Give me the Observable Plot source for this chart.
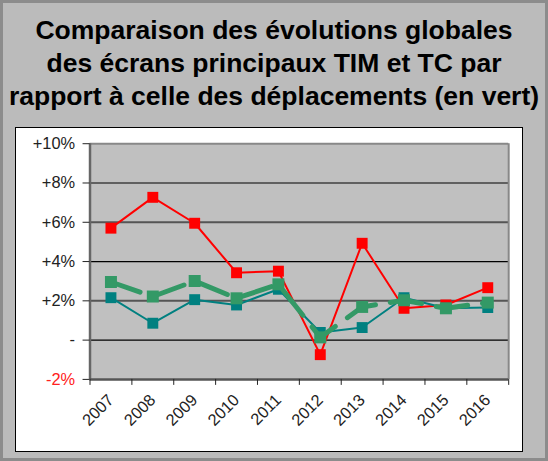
<!DOCTYPE html>
<html>
<head>
<meta charset="utf-8">
<script src="https://cdn.jsdelivr.net/npm/d3@7"></script>
<script src="https://cdn.jsdelivr.net/npm/@observablehq/plot@0.6"></script>
<style>
  html, body { margin: 0; padding: 0; }
  #page {
    position: relative; width: 548px; height: 461px; box-sizing: border-box;
    background: #bbbbbb; border: 3px solid #8c8c8c; overflow: hidden;
    font-family: "Liberation Sans", Arial, sans-serif;
  }
  #title {
    position: absolute; left: 0; top: 11px; width: 542px; text-align: center;
    font-weight: bold; font-size: 26.5px; line-height: 33px; color: #000;
  }
  #box {
    position: absolute; left: 12px; top: 124px; width: 506px; height: 323px;
    background: #fff; border: 1px solid #000;
  }
  #chart { position: absolute; left: -3px; top: -3px; }
</style>
</head>
<body>
<div id="page">
  <div id="title">Comparaison des évolutions globales<br>des écrans principaux TIM et TC par<br>rapport à celle des déplacements (en vert)</div>
  <div id="box"></div>
  <div id="chart"></div>
</div>
<script>
const years = ["2007","2008","2009","2010","2011","2012","2013","2014","2015","2016"];
const tim = [5.7, 7.27, 5.95, 3.43, 3.51, -0.74, 4.93, 1.62, 1.79, 2.67];   // rouge
const tc = [2.16, 0.86, 2.06, 1.79, 2.59, 0.39, 0.64, 2.16, 1.62, 1.66];    // bleu-vert
const depl = [2.96, 2.22, 3.01, 2.13, 2.84, 0.14, 1.69, 2.03, 1.62, 1.91];  // vert
const yTicks = [-2, 0, 2, 4, 6, 8, 10];
const yLabels = ["-2%", "-", "+2%", "+4%", "+6%", "+8%", "+10%"];

const rows = (vals) => vals.map((v, i) => ({i, v}));
const dTim = rows(tim), dTc = rows(tc), dDepl = rows(depl);
const bounds = d3.range(years.length + 1).map(i => i - 0.5);
const fmtY = d => yLabels[yTicks.indexOf(d)];

const chart = Plot.plot({
  width: 548, height: 461,
  marginLeft: 90, marginRight: 37, marginTop: 144, marginBottom: 80,
  style: {background: "transparent", fontFamily: "'Liberation Sans', Arial, sans-serif"},
  x: {domain: [-0.5, years.length - 0.5]},
  y: {domain: [-2, 10]},
  marks: [
    Plot.rect([0], {x1: -0.5, x2: years.length - 0.5, y1: -2, y2: 10, fill: "#c0c0c0"}),
    Plot.ruleY([0, 4, 8], {stroke: "#000", strokeWidth: 1.2}),
    Plot.ruleY([2, 6], {stroke: "#555", strokeWidth: 2}),
    Plot.ruleY([10], {stroke: "#888", strokeWidth: 2}),
    Plot.ruleX([years.length - 0.5], {stroke: "#888", strokeWidth: 2}),
    Plot.ruleX([-0.5], {stroke: "#666", strokeWidth: 2.5}),
    Plot.ruleY([-2], {stroke: "#555", strokeWidth: 2.5}),
    Plot.axisY({ticks: yTicks.filter(d => d >= 0), tickFormat: fmtY, tickSize: 7, tickPadding: 8,
      fontSize: 16.5, color: "#222", stroke: "#222", label: null}),
    Plot.axisY({ticks: [-2], tickFormat: fmtY, tickSize: 7, tickPadding: 8,
      fontSize: 16.5, fill: "#ff2020", stroke: "#222", label: null}),
    Plot.axisX({ticks: bounds, tickFormat: () => "", tickSize: 6, stroke: "#222", label: null}),
    Plot.axisX({ticks: d3.range(years.length), tickFormat: i => years[i], tickSize: 0, tickPadding: 18,
      tickRotate: -45, fontSize: 16.5, fill: "#222", label: null}),
    // TIM (rouge)
    Plot.line(dTim, {x: "i", y: "v", stroke: "#ff0000", strokeWidth: 2}),
    Plot.dot(dTim, {x: "i", y: "v", symbol: "square", r: 6.2, fill: "#ff0000"}),
    // TC (bleu-vert)
    Plot.line(dTc, {x: "i", y: "v", stroke: "#008080", strokeWidth: 2}),
    Plot.dot(dTc, {x: "i", y: "v", symbol: "square", r: 6.2, fill: "#008080"}),
    // Déplacements (vert)
    Plot.line(dDepl, {x: "i", y: "v", stroke: "#339966", strokeWidth: 5, strokeDasharray: "32 15", strokeDashoffset: 1}),
    Plot.dot(dDepl, {x: "i", y: "v", symbol: "square", r: 6.8, fill: "#339966"})
  ]
});
document.getElementById("chart").appendChild(chart);
</script>
</body>
</html>
